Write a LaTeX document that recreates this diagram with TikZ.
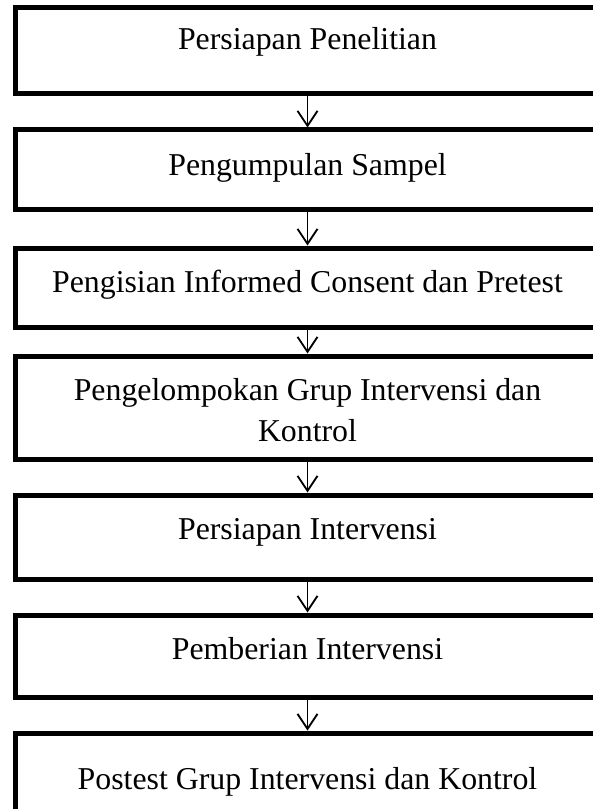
\documentclass[tikz,border=0pt]{standalone}
\usepackage{fontspec}
\setmainfont{Liberation Serif}
\usetikzlibrary{arrows.meta}

\tikzset{
  stepbox/.style={draw, line width=2.2pt, rectangle, inner sep=0pt,
                  minimum width=257.4pt},
  steptext/.style={anchor=base, align=center, inner sep=0pt,
                   font=\fontsize{14}{18}\selectfont},
}

\begin{document}
\begin{tikzpicture}[x=0.44pt, y=-0.44pt, >={Straight Barb[length=6.6pt,width=8.8pt]}]
    \useasboundingbox[fill=white] (0,0) rectangle (592,809);
    %define the boxes
    \node[stepbox, minimum height=37.84pt] (s1) at (307.5,51)    {};
    \node[stepbox, minimum height=35.2pt]  (s2) at (307.5,170)   {};
    \node[stepbox, minimum height=34.76pt] (s3) at (307.5,287.5) {};
    \node[stepbox, minimum height=45.32pt] (s4) at (307.5,407.5) {};
    \node[stepbox, minimum height=36.96pt] (s5) at (307.5,537)   {};
    \node[stepbox, minimum height=36.08pt] (s6) at (307.5,656)   {};
    \node[stepbox, minimum height=39.6pt]  (s7) at (307.5,778)   {};

    %define the texts
    \node[steptext] (t1) at (307.5,50)  {Persiapan Penelitian};
    \node[steptext] (t2) at (307.5,176) {Pengumpulan Sampel};
    \node[steptext] (t3) at (307.5,292) {Pengisian Informed Consent dan Pretest};
    \node[steptext] (t4) at (307.5,441) {Pengelompokan Grup Intervensi dan\\Kontrol};
    \node[steptext] (t5) at (307.5,539) {Persiapan Intervensi};
    \node[steptext] (t6) at (307.5,659) {Pemberian Intervensi};
    \node[steptext] (t7) at (307.5,789) {Postest Grup Intervensi dan Kontrol};

    %define the links
    \path[->, line width=0.8pt] (s1) edge (s2)
                                (s2) edge (s3)
                                (s3) edge (s4)
                                (s4) edge (s5)
                                (s5) edge (s6)
                                (s6) edge (s7);
\end{tikzpicture}
\end{document}
